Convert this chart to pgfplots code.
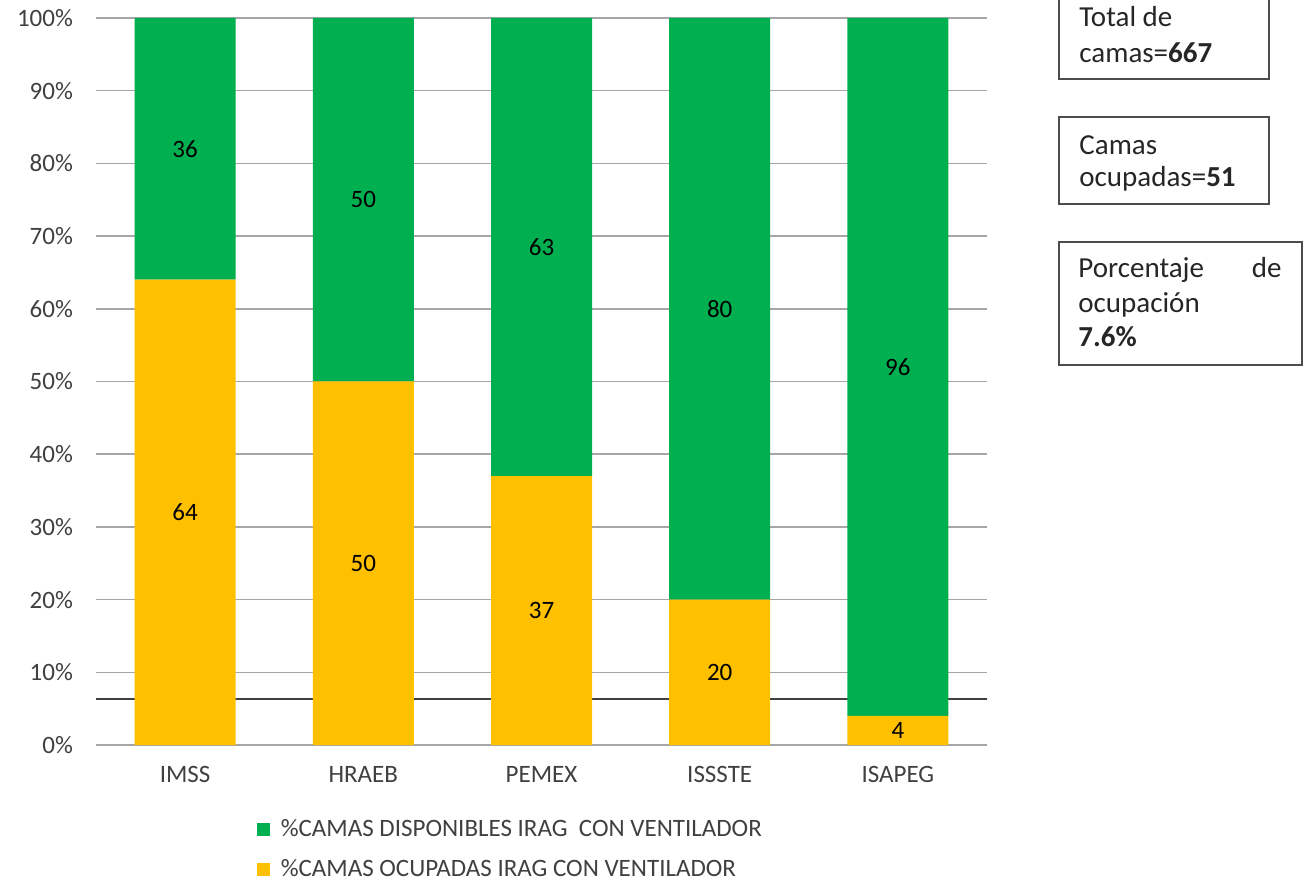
\documentclass[border=0pt]{standalone}
\usepackage{fontspec}
\setmainfont{Carlito}
\usepackage{pgfplots}
\pgfplotsset{compat=1.18}
\usepackage{pgfplotstable}

\definecolor{disp}{HTML}{00B050}
\definecolor{ocup}{HTML}{FFC000}
\definecolor{gridc}{HTML}{A6A6A6}
\definecolor{txt}{HTML}{404040}

\pgfplotstableread{
x  inst    ocup disp
0  IMSS    64   36
1  HRAEB   50   50
2  PEMEX   37   63
3  ISSSTE  20   80
4  ISAPEG  4    96
}\camas

\pgfplotsset{
  sq legend/.style={legend image code/.code={%
    \fill[##1] (0pt,-3.25pt) rectangle (6.5pt,3.25pt);
    \path (10pt,0pt);}},
}

\begin{document}
\begin{tikzpicture}
\useasboundingbox (0,0) rectangle (652pt,441.5pt);
\begin{axis}[
  at={(48pt,69pt)}, anchor=south west,
  scale only axis, width=445.5pt, height=363.5pt,
  ybar stacked, bar width=50.5pt,
  xmin=-0.5, xmax=4.5, ymin=0, ymax=100, enlargelimits=false,
  xtick={0,...,4}, xticklabels={IMSS,HRAEB,PEMEX,ISSSTE,ISAPEG},
  ytick={0,10,...,100},
  yticklabel={\pgfmathprintnumber{\tick}\%},
  /pgf/number format/assume math mode=true,
  ymajorgrids, major grid style={gridc, line width=0.8pt},
  axis line style={draw=none},
  major tick length=0pt,
  tick label style={font=\fontsize{12.5}{15}\selectfont, text=txt},
  yticklabel style={xshift=-8pt},
  xticklabel style={yshift=-7pt},
  point meta=explicit,
  nodes near coords,
  % stacked labels already sit at the middle of their segment
  every node near coord/.append style={anchor=center, font=\fontsize{12.5}{15}\selectfont, text=black},
  legend style={draw=none, fill=none, at={(0.18,-0.096)}, anchor=north west, font=\fontsize{12.5}{15}\selectfont, text=txt, row sep=6pt, inner sep=0pt},
  legend cell align=left,
  reverse legend,
]
\addplot[fill=ocup, draw=none, sq legend] table[x=x, y=ocup, meta=ocup] {\camas};
\addlegendentry{\%CAMAS OCUPADAS IRAG CON VENTILADOR}
\addplot[fill=disp, draw=none, sq legend] table[x=x, y=disp, meta=disp] {\camas};
\addlegendentry{\%CAMAS DISPONIBLES IRAG\ \ CON VENTILADOR}
\draw[black!75, line width=1pt] (axis cs:-0.53,6.3) -- (axis cs:4.53,6.3);
\end{axis}

\begin{scope}[font=\fontsize{14.5}{17.5}\selectfont, text=black!85]
\draw[black!70, line width=0.9pt] (529.5pt,402pt) rectangle (634.5pt,446pt);
\node[anchor=base west, inner sep=0pt] at (539.5pt,428pt) {Total de};
\node[anchor=base west, inner sep=0pt] at (539.5pt,410pt) {camas=\textbf{667}};

\draw[black!70, line width=0.9pt] (529.5pt,339.5pt) rectangle (634.5pt,383pt);
\node[anchor=base west, inner sep=0pt] at (539.5pt,364pt) {Camas};
\node[anchor=base west, inner sep=0pt] at (539.5pt,348pt) {ocupadas=\textbf{51}};

\draw[black!70, line width=0.9pt] (529.5pt,259pt) rectangle (651pt,320.5pt);
\node[anchor=base west, inner sep=0pt] at (539pt,302.5pt) {Porcentaje};
\node[anchor=base east, inner sep=0pt] at (641pt,302.5pt) {de};
\node[anchor=base west, inner sep=0pt] at (539pt,285pt) {ocupación};
\node[anchor=base west, inner sep=0pt] at (539pt,268pt) {\textbf{7.6\%}};
\end{scope}
\end{tikzpicture}
\end{document}
